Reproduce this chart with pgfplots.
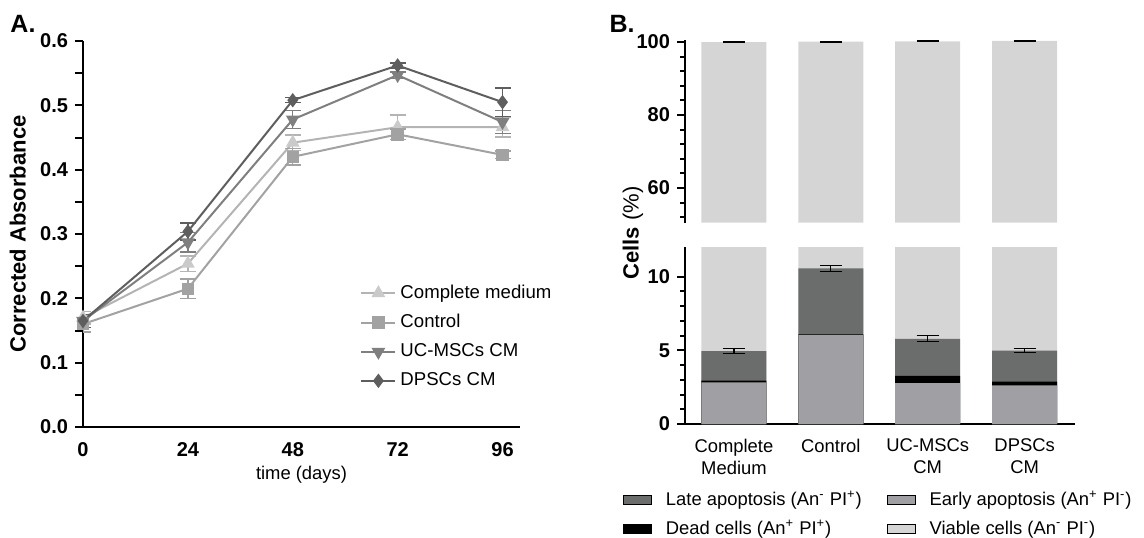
\documentclass[border=0pt]{standalone}
\usepackage{fontspec}
\setmainfont{Liberation Sans}
\usepackage{pgfplots}
\pgfplotsset{compat=1.18}
\definecolor{cmline}{HTML}{B4B4B4}
\definecolor{cmfill}{HTML}{CACACA}
\definecolor{ctl}{HTML}{A2A2A2}
\definecolor{uc}{HTML}{7F7F7F}
\definecolor{dp}{HTML}{5E5E5E}
\definecolor{late}{HTML}{6B6C6C}
\definecolor{early}{HTML}{A0A0A4}
\definecolor{viable}{HTML}{D5D5D5}
\pgfplotsset{
  errstyle/.style={error bars/.cd, y dir=both, y explicit,
    error bar style={line width=0.7pt},
    error mark options={rotate=90, mark size=4pt, line width=0.7pt}},
  berr/.style={draw=none, mark=none, forget plot,
    error bars/.cd, y dir=both, y explicit,
    error bar style={line width=0.6pt, black, draw=black},
    error mark options={rotate=90, mark size=5.5pt, line width=0.6pt, draw=black}},
  bbar/.style={ybar, bar width=32.5pt, bar shift=0pt, draw=none, forget plot},
}
\begin{document}
\begin{tikzpicture}[font=\fontsize{9.2}{11}\selectfont]
\path[use as bounding box] (0,0) rectangle (572pt,-268.5pt);

\node[font=\fontsize{12.5}{14}\selectfont\bfseries] at (11.5pt,-12pt) {A.};
\node[font=\fontsize{12.5}{14}\selectfont\bfseries] at (311pt,-12pt) {B.};

% ---------- Panel A ----------
\begin{axis}[
  at={(41.5pt,-213.5pt)}, anchor=south west,
  scale only axis, width=218.5pt, height=193pt,
  xmin=0, xmax=100, ymin=0, ymax=0.6,
  axis x line=bottom, axis y line=left,
  axis line style={-, line width=1.2pt},
  xtick={0,24,48,72,96},
  ytick={0,0.1,0.2,0.3,0.4,0.5,0.6},
  minor ytick={0.05,0.15,0.25,0.35,0.45,0.55},
  tick align=outside, major tick length=4pt, minor tick length=4pt,
  x tick style={draw=none},
  y tick style={line width=1pt, black},
  minor y tick style={line width=1pt, black},
  /pgf/number format/assume math mode=true,
  ticklabel style={font=\fontsize{10}{12}\selectfont\bfseries},
  yticklabel style={/pgf/number format/.cd, fixed, fixed zerofill, precision=1},
  xlabel={time (days)},
  xlabel style={at={(axis description cs:0.5,0)}, anchor=north, yshift=-16pt},
  ylabel={\bfseries Corrected Absorbance},
  ylabel style={at={(axis description cs:-0.149,0.5)}, anchor=center,
                font=\fontsize{11}{13}\selectfont},
  legend style={at={(axis description cs:0.62,0.39)}, anchor=north west,
                draw=none, fill=none, font=\fontsize{9.3}{11}\selectfont,
                row sep=2.5pt},
  legend cell align=left,
]
\addplot[color=cmline, line width=1pt, mark=triangle*, mark size=3pt,
  mark options={fill=cmfill, draw=cmfill}, errstyle]
  coordinates {(0,0.170) +- (0,0.010) (24,0.254) +- (0,0.012) (48,0.442) +- (0,0.012)
               (72,0.466) +- (0,0.019) (96,0.466) +- (0,0.015)};
\addlegendentry{Complete medium}
\addplot[color=ctl, line width=1pt, mark=square*, mark size=2.6pt,
  mark options={fill=ctl}, errstyle]
  coordinates {(0,0.160) +- (0,0.012) (24,0.215) +- (0,0.015) (48,0.420) +- (0,0.013)
               (72,0.455) +- (0,0.008) (96,0.423) +- (0,0.006)};
\addlegendentry{Control}
\addplot[color=uc, line width=1pt, mark=triangle*, mark size=3pt,
  mark options={fill=uc, rotate=180}, errstyle]
  coordinates {(0,0.165) +- (0,0.010) (24,0.287) +- (0,0.015) (48,0.478) +- (0,0.014)
               (72,0.547) +- (0,0.005) (96,0.474) +- (0,0.018)};
\addlegendentry{UC-MSCs CM}
\addplot[color=dp, line width=1pt, mark=diamond*, mark size=2.8pt,
  mark options={fill=dp}, errstyle]
  coordinates {(0,0.165) +- (0,0.010) (24,0.304) +- (0,0.013) (48,0.508) +- (0,0.004)
               (72,0.562) +- (0,0.004) (96,0.505) +- (0,0.022)};
\addlegendentry{DPSCs CM}
\end{axis}

% ---------- Panel B: y label ----------
\node[rotate=90, font=\fontsize{11}{13}\selectfont] at (316.5pt,-116.5pt) {\textbf{Cells} (\%)};

% ---------- Panel B upper ----------
\begin{axis}[
  at={(342.5pt,-111.35pt)}, anchor=south west,
  scale only axis, width=195pt, height=91.25pt,
  xmin=-0.505, xmax=3.52, ymin=50.5, ymax=100.5,
  axis x line=none, axis y line=left,
  axis line style={-, line width=1.2pt},
  ytick={60,80,100}, minor ytick={52,56,64,68,72,76,84,88,92,96},
  tick align=outside, major tick length=4pt, minor tick length=2.5pt,
  y tick style={line width=1pt, black},
  minor y tick style={line width=1pt, black},
  /pgf/number format/assume math mode=true,
  ticklabel style={font=\fontsize{10}{12}\selectfont\bfseries},
]
\addplot[bbar, fill=viable] coordinates {(0,100.0) (1,100.1) (2,100.2) (3,100.3)};
\addplot[berr] coordinates {(0,100.0) +- (0,0.1) (1,100.1) +- (0,0.1) (2,100.2) +- (0,0.1) (3,100.3) +- (0,0.1)};
\end{axis}

% ---------- Panel B lower ----------
\begin{axis}[
  at={(342.5pt,-212pt)}, anchor=south west,
  scale only axis, width=195pt, height=88.5pt,
  xmin=-0.505, xmax=3.52, ymin=0, ymax=12,
  axis x line=bottom, axis y line=left,
  axis line style={-, line width=1.2pt},
  xtick={0,1,2,3},
  xticklabels={Complete\\Medium, Control, UC-MSCs\\CM, DPSCs\\CM},
  x tick label style={align=center, font=\fontsize{9.2}{11}\selectfont},
  x tick style={draw=none},
  ytick={0,5,10}, minor y tick num=4,
  tick align=outside, major tick length=4pt, minor tick length=2.5pt,
  y tick style={line width=1pt, black},
  minor y tick style={line width=1pt, black},
  /pgf/number format/assume math mode=true,
  y tick label style={font=\fontsize{10}{12}\selectfont\bfseries},
  legend columns=2,
  legend cell align=left,
  legend image code/.code={\fill[#1] (0pt,-2.2pt) rectangle (14pt,2.2pt); \path (19pt,0pt);},
  legend style={at={(axis description cs:-0.175,-0.33)}, anchor=north west,
                draw=none, fill=none, font=\fontsize{9.2}{11}\selectfont,
                row sep=1.5pt,
                /tikz/every even column/.append style={column sep=10.5pt}},
]
\addplot[bbar, fill=viable] coordinates {(0,100.0) (1,100.1) (2,100.2) (3,100.3)};
\addplot[bbar, fill=late] coordinates {(0,4.95) (1,10.55) (2,5.78) (3,4.98)};
\addplot[bbar, fill=black] coordinates {(0,2.95) (1,6.07) (2,3.27) (3,2.88)};
\addplot[bbar, fill=early] coordinates {(0,2.82) (1,6.02) (2,2.78) (3,2.62)};
\addplot[berr] coordinates {(0,4.95) +- (0,0.15) (1,10.55) +- (0,0.2) (2,5.78) +- (0,0.2) (3,4.98) +- (0,0.12)};
\addlegendimage{fill=late}
\addlegendentry{Late apoptosis (An\textsuperscript{-} PI\textsuperscript{+})}
\addlegendimage{fill=early}
\addlegendentry{Early apoptosis (An\textsuperscript{+} PI\textsuperscript{-})}
\addlegendimage{fill=black}
\addlegendentry{Dead cells (An\textsuperscript{+} PI\textsuperscript{+})}
\addlegendimage{fill=viable}
\addlegendentry{Viable cells (An\textsuperscript{-} PI\textsuperscript{-})}
\end{axis}
\end{tikzpicture}
\end{document}
